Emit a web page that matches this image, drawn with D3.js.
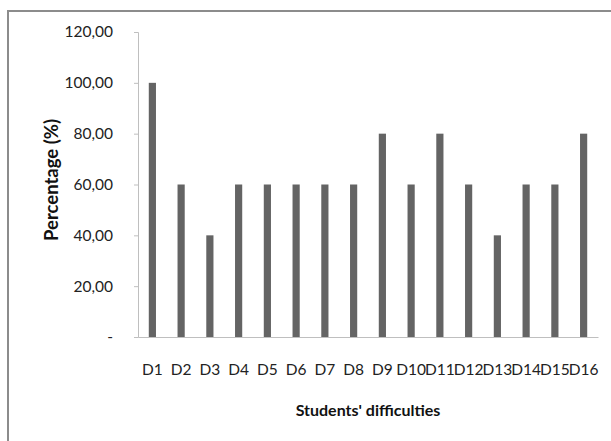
<!DOCTYPE html>
<html><head><meta charset="utf-8">
<script src="https://cdn.jsdelivr.net/npm/d3@7"></script>
<style>body{margin:0;background:#fff}text{font-family:Lato,"Open Sans",sans-serif}</style>
</head><body>
<svg id="c" width="611" height="441"></svg>
<script>
const categories = ["D1","D2","D3","D4","D5","D6","D7","D8","D9","D10","D11","D12","D13","D14","D15","D16"];
const values = [100,60,40,60,60,60,60,60,80,60,80,60,40,60,60,80];
const yTicks = [0,20,40,60,80,100,120];
const yTickLabels = ["-","20,00","40,00","60,00","80,00","100,00","120,00"];

(function(){
const svg = d3.select("#c");
svg.append("path").attr("d","M8,441 V11 H611").attr("fill","none").attr("stroke","#8c8c8c").attr("stroke-width",2);

const pl=138, pr=598, pt=32, pb=337;
const x = d3.scaleBand().domain(categories).range([pl,pr]).paddingInner(0.75).paddingOuter(0.375);
const y = d3.scaleLinear().domain([0,120]).range([pb,pt]);

const yAxis = d3.axisLeft(y).tickValues(yTicks).tickSize(4).tickPadding(21)
  .tickFormat((d,i)=>yTickLabels[i]);
const gy = svg.append("g").attr("transform",`translate(${pl},0)`).call(yAxis);
gy.select(".domain").attr("stroke","#bfbfbf");
gy.selectAll(".tick line").attr("stroke","#bfbfbf");
gy.selectAll(".tick text").attr("font-size",15.5).attr("fill","#222");

const xAxis = d3.axisBottom(x).tickSize(0).tickPadding(27);
const gx = svg.append("g").attr("transform",`translate(0,${pb})`).call(xAxis);
gx.select(".domain").attr("stroke","#bfbfbf");
gx.selectAll(".tick text").attr("font-size",15.5).attr("fill","#222");

svg.append("g").selectAll("rect").data(values).join("rect")
  .attr("x",(d,i)=>x(categories[i])).attr("width",x.bandwidth())
  .attr("y",d=>y(d)).attr("height",d=>pb-y(d)).attr("fill","#646464");

svg.append("text").attr("x",368).attr("y",416).attr("text-anchor","middle")
  .attr("font-size",16).attr("font-weight","bold").attr("fill","#111").text("Students' difficulties");
svg.append("text").attr("transform","translate(58,180) rotate(-90)").attr("text-anchor","middle")
  .attr("font-size",18.5).attr("font-weight","bold").attr("fill","#111").text("Percentage (%)");
})();
</script>
</body></html>
